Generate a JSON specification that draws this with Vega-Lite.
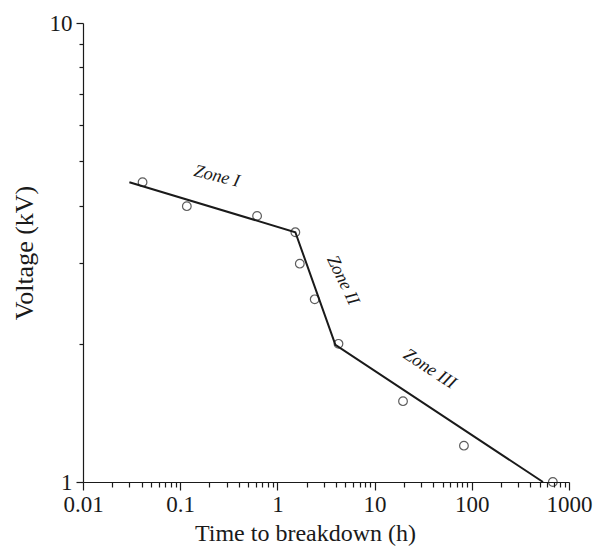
{
  "$schema": "https://vega.github.io/schema/vega-lite/v6.json",
  "width": 486,
  "height": 459,
  "autosize": "none",
  "padding": {"left": 83, "top": 23, "right": 24, "bottom": 69},
  "background": "white",
  "config": {
    "view": {"stroke": null},
    "font": "Times New Roman, Liberation Serif, Times, serif",
    "axis": {
      "domainColor": "#1a1a1a",
      "domainWidth": 1.2,
      "tickColor": "#1a1a1a",
      "tickWidth": 1.2,
      "labelFont": "Times New Roman, Liberation Serif, Times, serif",
      "labelFontSize": 23,
      "labelColor": "#1a1a1a",
      "titleFont": "Times New Roman, Liberation Serif, Times, serif",
      "titleFontSize": 24,
      "titleFontWeight": "normal",
      "titleColor": "#1a1a1a",
      "grid": false
    }
  },
  "datasets": {
    "points": [
      {"time": 0.041, "voltage": 4.5},
      {"time": 0.117, "voltage": 3.99},
      {"time": 0.618, "voltage": 3.8},
      {"time": 1.53, "voltage": 3.5},
      {"time": 1.7, "voltage": 2.99},
      {"time": 2.42, "voltage": 2.5},
      {"time": 4.25, "voltage": 2.0},
      {"time": 19.6, "voltage": 1.5},
      {"time": 83, "voltage": 1.2},
      {"time": 682, "voltage": 1.0}
    ],
    "fit": [
      {"time": 0.03, "voltage": 4.5},
      {"time": 1.53, "voltage": 3.5},
      {"time": 3.95, "voltage": 1.99},
      {"time": 540, "voltage": 1.0}
    ],
    "zones": [
      {"zone": "Zone I", "time": 0.238, "voltage": 4.63},
      {"zone": "Zone II", "time": 4.7, "voltage": 2.75},
      {"zone": "Zone III", "time": 36.8, "voltage": 1.762}
    ]
  },
  "layer": [
    {
      "data": {"name": "fit"},
      "mark": {"type": "line", "color": "#1a1a1a", "strokeWidth": 2},
      "encoding": {
        "x": {
          "field": "time", "type": "quantitative",
          "scale": {"type": "log", "domain": [0.01, 1000], "nice": false},
          "axis": {
            "title": "Time to breakdown (h)",
            "values": [0.01,0.02,0.03,0.04,0.05,0.06,0.07,0.08,0.09,0.1,0.2,0.3,0.4,0.5,0.6,0.7,0.8,0.9,1,2,3,4,5,6,7,8,9,10,20,30,40,50,60,70,80,90,100,200,300,400,500,600,700,800,900,1000],
            "labelExpr": "indexof([0.01,0.1,1,10,100,1000], datum.value) >= 0 ? datum.value : ''",
            "tickSize": {"condition": {"test": "indexof([0.01,0.1,1,10,100,1000], datum.value) >= 0", "value": 8}, "value": 5},
            "labelPadding": 3,
            "labelFlush": false,
            "labelOverlap": false,
            "titleX": 222,
            "titleAnchor": "middle",
            "titlePadding": 5
          }
        },
        "y": {
          "field": "voltage", "type": "quantitative",
          "scale": {"type": "log", "domain": [1, 10], "nice": false},
          "axis": {
            "title": "Voltage (kV)",
            "values": [1,2,3,4,5,6,7,8,9,10],
            "labelExpr": "datum.value == 1 || datum.value == 10 ? datum.value : ''",
            "tickSize": {"condition": {"test": "datum.value == 1 || datum.value == 10", "value": 7}, "value": 4},
            "labelPadding": 4,
            "labelFlush": false,
            "labelOverlap": false,
            "titleFontSize": 26,
            "titlePadding": 12
          }
        }
      }
    },
    {
      "data": {"name": "points"},
      "mark": {"type": "point", "shape": "circle", "filled": false, "color": "#1a1a1a", "strokeWidth": 1.2, "size": 75},
      "encoding": {
        "x": {"field": "time", "type": "quantitative"},
        "y": {"field": "voltage", "type": "quantitative"}
      }
    },
    {
      "data": {"name": "zones"},
      "transform": [{"filter": "datum.zone == 'Zone I'"}],
      "mark": {"type": "text", "font": "Times New Roman, Liberation Serif, Times, serif", "fontStyle": "italic", "fontSize": 18, "angle": 14, "color": "#1a1a1a"},
      "encoding": {
        "x": {"field": "time", "type": "quantitative"},
        "y": {"field": "voltage", "type": "quantitative"},
        "text": {"field": "zone"}
      }
    },
    {
      "data": {"name": "zones"},
      "transform": [{"filter": "datum.zone == 'Zone II'"}],
      "mark": {"type": "text", "font": "Times New Roman, Liberation Serif, Times, serif", "fontStyle": "italic", "fontSize": 18, "angle": 64, "color": "#1a1a1a"},
      "encoding": {
        "x": {"field": "time", "type": "quantitative"},
        "y": {"field": "voltage", "type": "quantitative"},
        "text": {"field": "zone"}
      }
    },
    {
      "data": {"name": "zones"},
      "transform": [{"filter": "datum.zone == 'Zone III'"}],
      "mark": {"type": "text", "font": "Times New Roman, Liberation Serif, Times, serif", "fontStyle": "italic", "fontSize": 18, "angle": 33, "color": "#1a1a1a"},
      "encoding": {
        "x": {"field": "time", "type": "quantitative"},
        "y": {"field": "voltage", "type": "quantitative"},
        "text": {"field": "zone"}
      }
    }
  ]
}
